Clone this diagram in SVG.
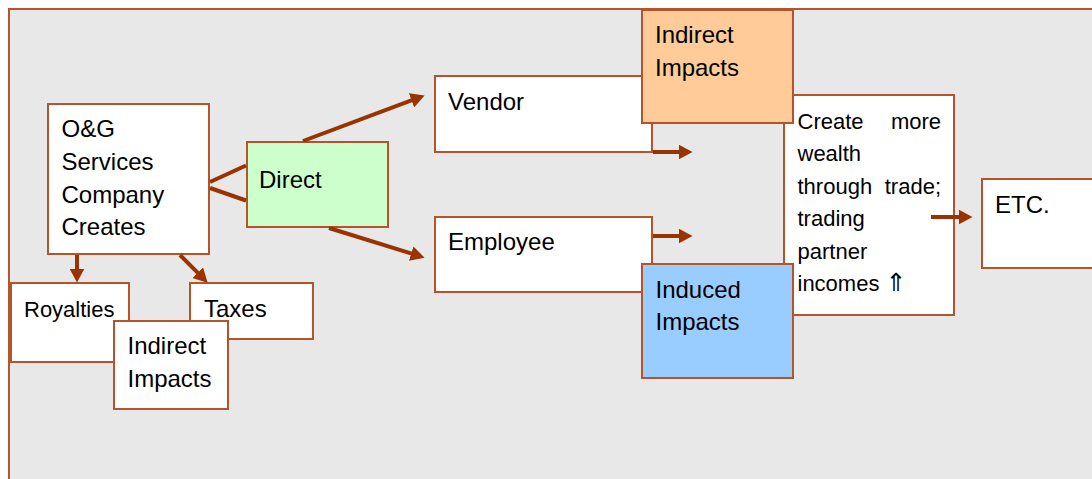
<svg xmlns="http://www.w3.org/2000/svg" width="1092" height="479" viewBox="0 0 1092 479">
<defs>
<style>
.box{stroke:#b5532a;stroke-width:2}
.t{font-family:"Liberation Sans",Arial,sans-serif;font-size:24px;fill:#000}
.s{font-size:22px}
.c{stroke:#993300;stroke-width:4;fill:none;marker-end:url(#ah)}
.d{stroke:#993300;stroke-width:4;fill:none}
</style>
<marker id="ah" viewBox="0 0 14 15" markerWidth="14" markerHeight="15" refX="0.5" refY="7.5" orient="auto" markerUnits="userSpaceOnUse">
<path d="M0,0 L14,7.5 L0,15 z" fill="#993300"/>
</marker>
</defs>
<rect x="0" y="0" width="1092" height="479" fill="#ffffff"/>
<rect id="panel" x="9" y="9" width="1100" height="490" fill="#e8e8e8" stroke="#b5532a" stroke-width="2"/>
<g id="og">
<rect class="box" x="48" y="104" width="161" height="150" fill="#ffffff"/>
<text class="t" x="61.5" y="137">O&amp;G</text>
<text class="t" x="61.5" y="170">Services</text>
<text class="t" x="61.5" y="203">Company</text>
<text class="t" x="61.5" y="235">Creates</text>
</g>
<g id="direct">
<rect class="box" x="247" y="142" width="141" height="85" fill="#ccffcc"/>
<text class="t" x="259" y="188">Direct</text>
</g>
<g id="royalties">
<rect class="box" x="11" y="283" width="118" height="79" fill="#ffffff"/>
<text class="t s" x="24" y="317">Royalties</text>
</g>
<g id="taxes">
<rect class="box" x="190" y="283" width="123" height="56" fill="#ffffff"/>
<text class="t" x="204" y="317">Taxes</text>
</g>
<g id="indirect-small">
<rect class="box" x="114" y="321" width="114" height="88" fill="#ffffff"/>
<text class="t" x="127.5" y="354">Indirect</text>
<text class="t" x="127.5" y="387">Impacts</text>
</g>
<g id="vendor">
<rect class="box" x="435" y="76" width="217" height="76" fill="#ffffff"/>
<text class="t" x="448" y="110">Vendor</text>
</g>
<g id="employee">
<rect class="box" x="435" y="217" width="217" height="75" fill="#ffffff"/>
<text class="t" x="448" y="250">Employee</text>
</g>
<g id="wealth">
<rect class="box" x="784" y="95" width="170" height="220" fill="#ffffff"/>
<text class="t s" x="797.5" y="128.5">Create</text>
<text class="t s" x="941" y="128.5" text-anchor="end">more</text>
<text class="t s" x="797.5" y="161">wealth</text>
<text class="t s" x="797.5" y="193.5">through</text>
<text class="t s" x="941" y="193.5" text-anchor="end">trade;</text>
<text class="t s" x="797.5" y="226">trading</text>
<text class="t s" x="797.5" y="259">partner</text>
<text class="t s" x="797.5" y="291">incomes <tspan font-family="'DejaVu Sans',sans-serif" font-size="25">⇑</tspan></text>
</g>
<g id="indirect-top">
<rect class="box" x="642" y="10" width="151" height="113" fill="#ffcc99"/>
<text class="t" x="655" y="43">Indirect</text>
<text class="t" x="655" y="76">Impacts</text>
</g>
<g id="induced">
<rect class="box" x="642" y="264" width="151" height="114" fill="#99ccff"/>
<text class="t" x="655.5" y="298">Induced</text>
<text class="t" x="655.5" y="330">Impacts</text>
</g>
<g id="etc">
<rect class="box" x="982" y="179" width="120" height="89" fill="#ffffff"/>
<text class="t" x="995" y="213">ETC.</text>
</g>
<g id="connectors">
<line class="d" x1="210" y1="182" x2="246" y2="165.5"/>
<line class="c" x1="303" y1="141" x2="412" y2="100.2"/>
<line class="d" x1="210" y1="188" x2="246" y2="200.5"/>
<line class="c" x1="329" y1="228" x2="411.7" y2="253.7"/>
<line class="c" x1="77" y1="255" x2="77" y2="269"/>
<line class="c" x1="180" y1="255" x2="198.1" y2="273.1"/>
<line class="c" x1="653" y1="152" x2="679" y2="152"/>
<line class="c" x1="653" y1="236" x2="679" y2="236"/>
<line class="c" x1="931" y1="217" x2="959" y2="217"/>
</g>
</svg>
